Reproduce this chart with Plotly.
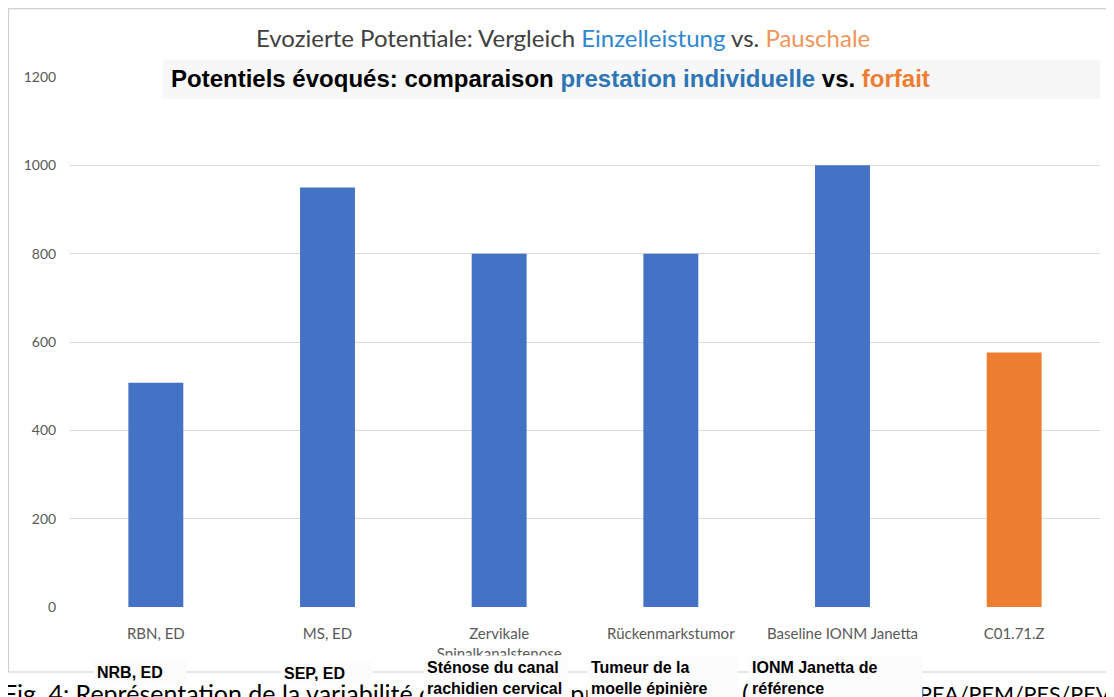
import plotly.graph_objects as go

# ---- data ----
categories = ["RBN, ED", "MS, ED", "Zervikale<br>Spinalkanalstenose", "Rückenmarkstumor",
              "Baseline IONM Janetta", "C01.71.Z"]
values = [508, 950, 800, 800, 1000, 576]
bar_colors = ["#4472C4", "#4472C4", "#4472C4", "#4472C4", "#4472C4", "#ED7D31"]
y_ticks = [0, 200, 400, 600, 800, 1000, 1200]

fr_labels = ["NRB, ED", "SEP, ED", "Sténose du canal<br>rachidien cervical",
             "Tumeur de la<br>moelle épinière", "IONM Janetta de<br>référence"]

caption_left = "Fig. 4: Représentation de la variabilité des tarifs des prestations"
caption_mid = "(TARMED)"
caption_right = "PEA/PEM/PES/PEV"

# page has an 8px body margin, so the figure is 8px smaller and all reference
# coordinates are shifted by OFF
OFF = 8
W, H = 1106, 689
L, T = 70 - OFF, 77 - OFF
PW, PH = 1030, 530
R = W - L - PW
B = H - T - PH


def px(x):
    return (x - OFF - L) / PW


def py(y):
    return (H - B - (y - OFF)) / PH


fig = go.Figure()
fig.add_trace(go.Bar(x=categories, y=values, marker=dict(color=bar_colors, line=dict(width=0)),
                     showlegend=False))

fig.update_layout(
    width=W, height=H,
    margin=dict(l=L, r=R, t=T, b=B, autoexpand=False),
    plot_bgcolor="white", paper_bgcolor="white",
    bargap=0.68,
    font=dict(family="Lato", color="#595959", size=15),
    xaxis=dict(showgrid=False, showline=False, zeroline=False, ticks="outside", ticklen=13,
               tickcolor="rgba(0,0,0,0)", tickfont=dict(size=15, color="#595959")),
    yaxis=dict(range=[0, 1200], tickvals=y_ticks, showgrid=True, gridcolor="#d9d9d9", gridwidth=1,
               zeroline=False, showline=False, ticks="outside", ticklen=10,
               tickcolor="rgba(0,0,0,0)", tickfont=dict(size=14, color="#595959")),
)

shapes = []
# chart frame
shapes.append(dict(type="rect", xref="paper", yref="paper", x0=px(8.5), x1=px(1130), y0=py(672), y1=py(8.6),
                   line=dict(color="#d0d0d0", width=1.2), fillcolor="rgba(0,0,0,0)", layer="below"))
# French title band
shapes.append(dict(type="rect", xref="paper", yref="paper", x0=px(163), x1=px(1100), y0=py(99), y1=py(60),
                   line=dict(width=0), fillcolor="#f7f7f7", layer="above"))
fig.update_layout(shapes=shapes)

ann = []
# German title
ann.append(dict(xref="paper", yref="paper", x=px(563), y=py(37), xanchor="center", yanchor="middle",
                showarrow=False, font=dict(family="Lato", size=24, color="#404040"),
                text="Evozierte Potentiale: Vergleich <span style='color:#2E86D0'>Einzelleistung</span> vs. "
                     "<span style='color:#F0955A'>Pauschale</span>"))
# French title
ann.append(dict(xref="paper", yref="paper", x=px(169), y=py(78), xanchor="left", yanchor="middle",
                showarrow=False, font=dict(family="Liberation Sans", size=24, color="#000000"),
                text="<b>Potentiels évoqués: comparaison <span style='color:#2E75B6'>prestation individuelle</span> vs. "
                     "<span style='color:#ED7D31'>forfait</span></b>"))
# caption (partially covered by the label boxes)
for txt, x, fs, yy in [(caption_left, 1, 25, 676), (caption_mid, 740, 25, 676), (caption_right, 917, 21.5, 678.5)]:
    ann.append(dict(xref="paper", yref="paper", x=px(x), y=py(yy), xanchor="left", yanchor="top",
                    showarrow=False, font=dict(family="Lato", size=fs, color="#000000"), text=txt))

# French category boxes
boxes = [(93, 185, 660, 683, "middle"), (280, 371, 661, 683, "middle"), (423, 567, 655, 697, "top"),
         (587, 736, 655, 697, "top"), (748, 921, 655, 697, "top")]
PAD = 3
for lab, (x0, x1, y0, y1, va) in zip(fr_labels, boxes):
    ann.append(dict(xref="paper", yref="paper", x=px(x0), y=py(y0), xanchor="left", yanchor="top",
                    width=x1 - x0 - 2 * PAD, height=y1 - y0 - 2 * PAD, align="left", valign=va,
                    bgcolor="#fcfcfc", borderpad=PAD, showarrow=False,
                    font=dict(family="Liberation Sans", size=16, color="#000000"),
                    text="<b>" + lab + "</b>"))
fig.update_layout(annotations=ann)

fig.write_html("out.html")
